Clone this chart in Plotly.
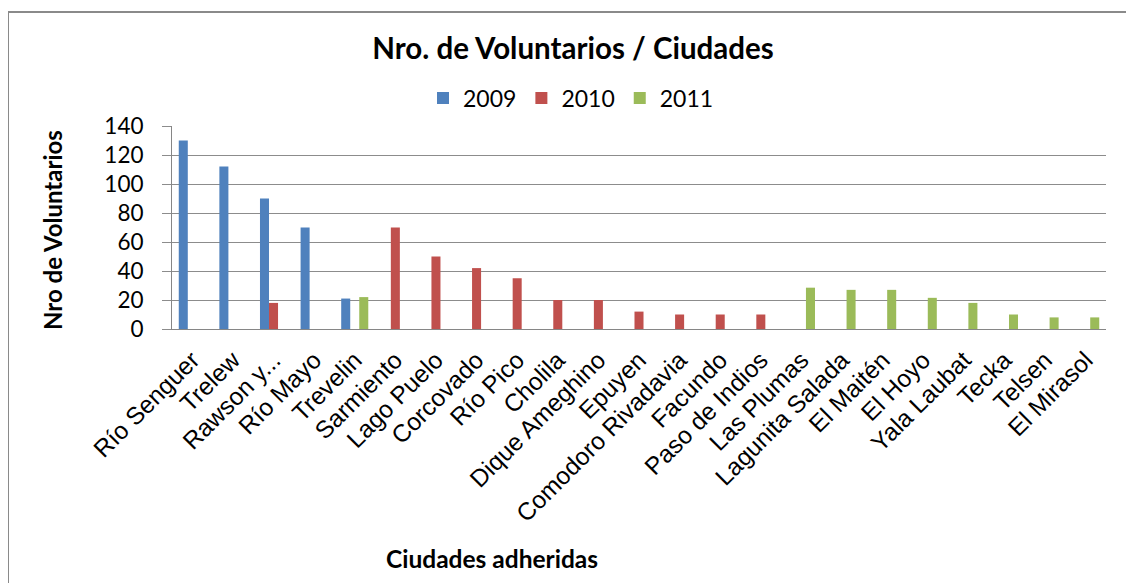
import plotly.graph_objects as go

ciudades = ["Río Senguer", "Trelew", "Rawson y...", "Río Mayo", "Trevelin", "Sarmiento",
            "Lago Puelo", "Corcovado", "Río Pico", "Cholila", "Dique Ameghino", "Epuyen",
            "Comodoro Rivadavia", "Facundo", "Paso de Indios", "Las Plumas", "Lagunita Salada",
            "El Maitén", "El Hoyo", "Yala Laubat", "Tecka", "Telsen", "El Mirasol"]

v2009 = [130, 112, 90, 70, 21, None, None, None, None, None, None, None,
         None, None, None, None, None, None, None, None, None, None, None]
v2010 = [None, None, 18, None, None, 70, 50, 42, 35, 20, 20, 12,
         10, 10, 10, None, None, None, None, None, None, None, None]
v2011 = [None, None, None, None, 22, None, None, None, None, None, None, None,
         None, None, None, 28.5, 27, 27, 21.5, 18, 10, 8, 8]

series_names = ["2009", "2010", "2011"]
colors = ["#4F81BD", "#C0504D", "#9BBB59"]
y_ticks = [0, 20, 40, 60, 80, 100, 120, 140]

OFF = 8  # page body margin offset
W, H = 1134 - OFF, 583 - OFF
L, R, T, B = 172 - OFF, W - (1106 - OFF), 126 - OFF, H - (329 - OFF)
pw, ph = W - L - R, H - T - B

fig = go.Figure()
for name, vals, col in zip(series_names, [v2009, v2010, v2011], colors):
    fig.add_trace(go.Bar(name=name, x=ciudades, y=vals, marker_color=col,
                         marker_line_width=0))

def px_x(p):
    return (p - OFF - L) / pw

def px_y(p):
    return (H - B - (p - OFF)) / ph

fig.update_layout(
    width=W, height=H,
    margin=dict(l=L, r=R, t=T, b=B, autoexpand=False),
    paper_bgcolor="white", plot_bgcolor="white",
    barmode="group", bargap=0.333, bargroupgap=0,
    title=dict(text="<b>Nro. de Voluntarios / Ciudades</b>", x=(573 - OFF) / W, xref="container",
               xanchor="center", y=1 - (49 - OFF) / H, yref="container", yanchor="middle",
               font=dict(family="Lato, sans-serif", size=29.5, color="black")),
    legend=dict(orientation="h", x=(571 - OFF) / W, xref="container", xanchor="center",
                y=1 - (98 - OFF) / H, yref="container", yanchor="middle",
                font=dict(family="Lato, sans-serif", size=23, color="black"),
                itemwidth=30, tracegroupgap=0, traceorder="normal"),
    showlegend=True,
    font=dict(family="Liberation Sans, Arial, sans-serif", color="black"),
)

fig.update_xaxes(
    type="category", tickangle=-45,
    tickfont=dict(family="Liberation Sans, Arial, sans-serif", size=24.5, color="black"),
    showline=True, linecolor="#868686", linewidth=1,
    showgrid=False, ticks="", automargin=False, ticklabelstandoff=6,
)
fig.update_yaxes(
    range=[0, 140], tickvals=y_ticks,
    tickfont=dict(family="Lato, sans-serif", size=22.5, color="black"),
    showline=True, linecolor="#868686", linewidth=1,
    showgrid=True, gridcolor="#8c8c8c", gridwidth=1,
    ticks="outside", ticklen=9, tickcolor="#8c8c8c",
    zeroline=False, automargin=False, ticklabelstandoff=14,
)

fig.add_annotation(text="<b>Nro de Voluntarios</b>", xref="paper", yref="paper",
                   x=px_x(52), y=px_y(230), showarrow=False, textangle=-90,
                   xanchor="center", yanchor="middle",
                   font=dict(family="Lato, sans-serif", size=24, color="black"))

fig.add_annotation(text="<b>Ciudades adheridas</b>", xref="paper", yref="paper",
                   x=px_x(492), y=px_y(558), showarrow=False, xanchor="center",
                   yanchor="middle",
                   font=dict(family="Lato, sans-serif", size=24.5, color="black"))

# chart-area border (top and left edges visible; right/bottom run off the image)
border = dict(color="#8a8a8a", width=2)
fig.add_shape(type="line", xref="paper", yref="paper",
              x0=px_x(8), x1=px_x(1200), y0=px_y(12), y1=px_y(12), line=border)
fig.add_shape(type="line", xref="paper", yref="paper",
              x0=px_x(8), x1=px_x(8), y0=px_y(12), y1=px_y(650), line=border)

fig.write_html("out.html")
